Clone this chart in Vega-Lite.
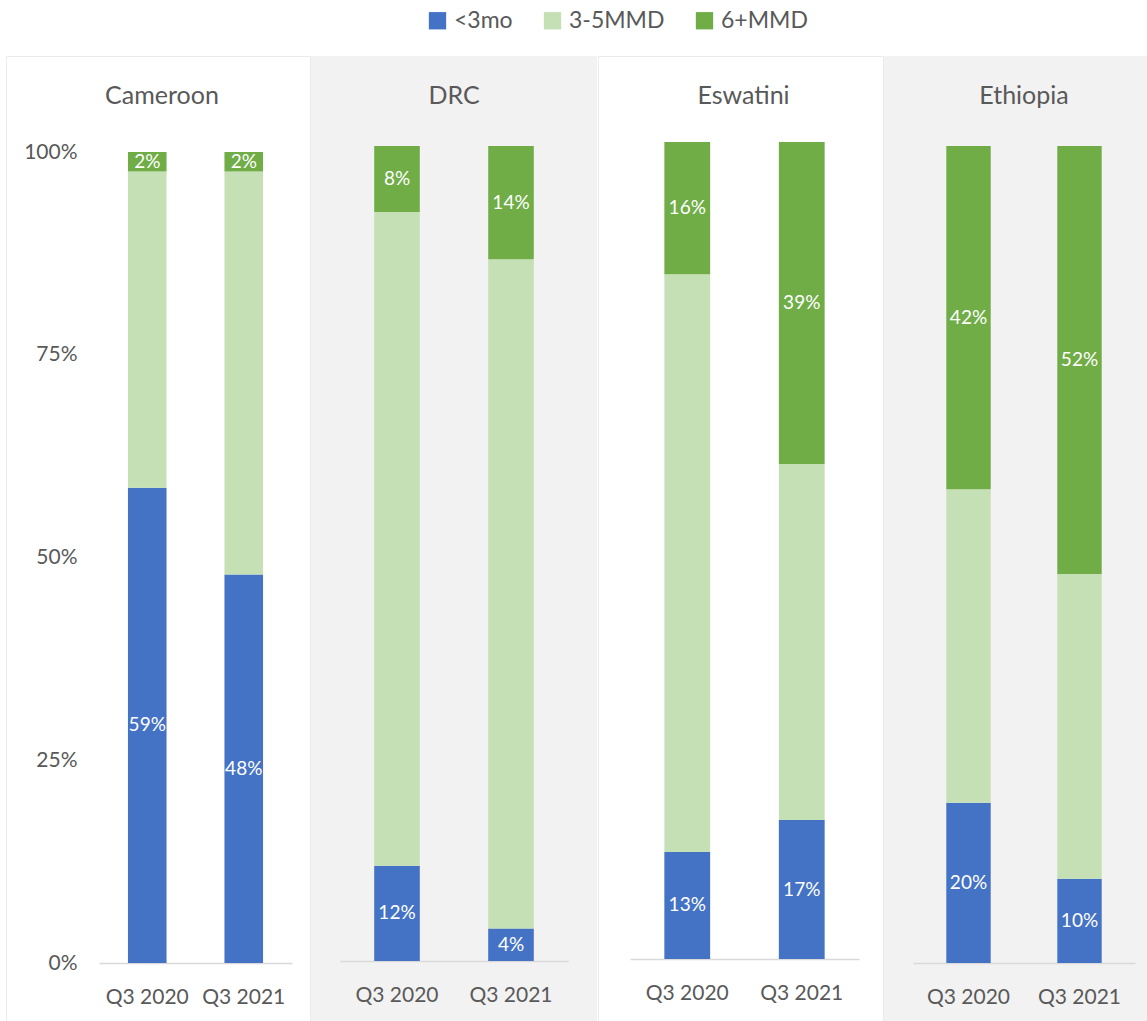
{
  "$schema": "https://vega.github.io/schema/vega-lite/v6.json",
  "padding": {"left": 5, "top": 9, "right": 1, "bottom": 0},
  "spacing": 0,
  "config": {
    "font": "Lato",
    "view": {"stroke": null},
    "axis": {"labelFont": "Lato", "labelColor": "#595959", "labelFontSize": 21, "domainColor": "#d9d9d9", "domainWidth": 1.5, "ticks": false, "tickSize": 0, "grid": false, "title": null},
    "title": {"font": "Lato", "fontSize": 25, "fontWeight": "normal", "color": "#595959", "baseline": "alphabetic", "anchor": "middle", "frame": "group"}
  },
  "data": {"values": [
    {"country": "Cameroon", "period": "Q3 2020", "cat": "<3mo", "ord": 1, "value": 0.586},
    {"country": "Cameroon", "period": "Q3 2020", "cat": "3-5MMD", "ord": 2, "value": 0.390},
    {"country": "Cameroon", "period": "Q3 2020", "cat": "6+MMD", "ord": 3, "value": 0.024},
    {"country": "Cameroon", "period": "Q3 2021", "cat": "<3mo", "ord": 1, "value": 0.479},
    {"country": "Cameroon", "period": "Q3 2021", "cat": "3-5MMD", "ord": 2, "value": 0.497},
    {"country": "Cameroon", "period": "Q3 2021", "cat": "6+MMD", "ord": 3, "value": 0.024},
    {"country": "DRC", "period": "Q3 2020", "cat": "<3mo", "ord": 1, "value": 0.117},
    {"country": "DRC", "period": "Q3 2020", "cat": "3-5MMD", "ord": 2, "value": 0.802},
    {"country": "DRC", "period": "Q3 2020", "cat": "6+MMD", "ord": 3, "value": 0.081},
    {"country": "DRC", "period": "Q3 2021", "cat": "<3mo", "ord": 1, "value": 0.040},
    {"country": "DRC", "period": "Q3 2021", "cat": "3-5MMD", "ord": 2, "value": 0.821},
    {"country": "DRC", "period": "Q3 2021", "cat": "6+MMD", "ord": 3, "value": 0.139},
    {"country": "Eswatini", "period": "Q3 2020", "cat": "<3mo", "ord": 1, "value": 0.131},
    {"country": "Eswatini", "period": "Q3 2020", "cat": "3-5MMD", "ord": 2, "value": 0.707},
    {"country": "Eswatini", "period": "Q3 2020", "cat": "6+MMD", "ord": 3, "value": 0.162},
    {"country": "Eswatini", "period": "Q3 2021", "cat": "<3mo", "ord": 1, "value": 0.170},
    {"country": "Eswatini", "period": "Q3 2021", "cat": "3-5MMD", "ord": 2, "value": 0.436},
    {"country": "Eswatini", "period": "Q3 2021", "cat": "6+MMD", "ord": 3, "value": 0.394},
    {"country": "Ethiopia", "period": "Q3 2020", "cat": "<3mo", "ord": 1, "value": 0.196},
    {"country": "Ethiopia", "period": "Q3 2020", "cat": "3-5MMD", "ord": 2, "value": 0.384},
    {"country": "Ethiopia", "period": "Q3 2020", "cat": "6+MMD", "ord": 3, "value": 0.420},
    {"country": "Ethiopia", "period": "Q3 2021", "cat": "<3mo", "ord": 1, "value": 0.103},
    {"country": "Ethiopia", "period": "Q3 2021", "cat": "3-5MMD", "ord": 2, "value": 0.373},
    {"country": "Ethiopia", "period": "Q3 2021", "cat": "6+MMD", "ord": 3, "value": 0.524}
  ]},
  "hconcat": [
    {
      "width": 304, "height": 965,
      "view": {"stroke": "#ebebeb", "fill": "white"},
      "title": {"text": "Cameroon", "offset": -53, "dx": 4},
      "transform": [
        {"filter": {"field": "country", "equal": "Cameroon"}},
        {"stack": "value", "groupby": ["period"], "sort": [{"field": "ord", "order": "ascending"}], "as": ["v0", "v1"]}
      ],
      "layer": [
        {
          "mark": {"type": "bar"},
          "encoding": {
            "x": {"field": "period", "type": "nominal", "scale": {"range": [93, 286], "paddingInner": 0.6, "paddingOuter": 0.3}, "axis": {"title": null, "labelAngle": 0, "offset": -58, "labelPadding": 23}},
            "y": {"field": "v0", "type": "quantitative", "scale": {"domain": [0, 1], "range": [907, 96], "nice": false}, "axis": {"title": null, "values": [0, 0.25, 0.5, 0.75, 1], "format": ".0%", "domain": false, "offset": -71, "labelPadding": 0}},
            "y2": {"field": "v1"},
            "color": {"field": "cat", "type": "nominal", "scale": {"domain": ["<3mo", "3-5MMD", "6+MMD"], "range": ["#4472C4", "#C5E0B4", "#70AD47"]},
              "legend": {"title": null, "orient": "none", "legendX": 420, "legendY": -47, "direction": "horizontal", "symbolType": "square", "symbolSize": 300, "symbolStrokeWidth": 0, "labelFontSize": 23, "labelColor": "#595959", "labelFont": "Lato", "labelOffset": 5, "columnPadding": 28}}
          }
        },
        {
          "transform": [
            {"filter": {"field": "cat", "oneOf": ["<3mo", "6+MMD"]}},
            {"fold": ["v0", "v1"], "as": ["k", "pos"]}
          ],
          "mark": {"type": "text", "color": "white", "fontSize": 19, "baseline": "middle", "font": "Lato"},
          "encoding": {
            "x": {"field": "period", "type": "nominal", "axis": {"title": null, "labelAngle": 0, "offset": -58, "labelPadding": 23}},
            "y": {"field": "pos", "aggregate": "mean", "type": "quantitative", "axis": {"title": null, "values": [0, 0.25, 0.5, 0.75, 1], "format": ".0%", "domain": false, "offset": -71, "labelPadding": 0}},
            "text": {"field": "value", "type": "quantitative", "format": ".0%"}
          }
        }
      ]
    },
    {
      "width": 286, "height": 965,
      "view": {"fill": "#f2f2f2", "stroke": null},
      "title": {"text": "DRC", "offset": -53, "dx": 0},
      "transform": [
        {"filter": {"field": "country", "equal": "DRC"}},
        {"stack": "value", "groupby": ["period"], "sort": [{"field": "ord", "order": "ascending"}], "as": ["v0", "v1"]}
      ],
      "layer": [
        {
          "mark": {"type": "bar"},
          "encoding": {
            "x": {"field": "period", "type": "nominal", "scale": {"range": [29, 257], "paddingInner": 0.6, "paddingOuter": 0.3}, "axis": {"title": null, "labelAngle": 0, "offset": -60, "labelPadding": 23}},
            "y": {"field": "v0", "type": "quantitative", "scale": {"domain": [0, 1], "range": [905, 90], "nice": false}, "axis": null},
            "y2": {"field": "v1"},
            "color": {"field": "cat", "type": "nominal", "scale": {"domain": ["<3mo", "3-5MMD", "6+MMD"], "range": ["#4472C4", "#C5E0B4", "#70AD47"]},
              "legend": {"title": null, "orient": "none", "legendX": 420, "legendY": -47, "direction": "horizontal", "symbolType": "square", "symbolSize": 300, "symbolStrokeWidth": 0, "labelFontSize": 23, "labelColor": "#595959", "labelFont": "Lato", "labelOffset": 5, "columnPadding": 28}}
          }
        },
        {
          "transform": [
            {"filter": {"field": "cat", "oneOf": ["<3mo", "6+MMD"]}},
            {"fold": ["v0", "v1"], "as": ["k", "pos"]}
          ],
          "mark": {"type": "text", "color": "white", "fontSize": 19, "baseline": "middle", "font": "Lato"},
          "encoding": {
            "x": {"field": "period", "type": "nominal", "axis": {"title": null, "labelAngle": 0, "offset": -60, "labelPadding": 23}},
            "y": {"field": "pos", "aggregate": "mean", "type": "quantitative", "axis": null},
            "text": {"field": "value", "type": "quantitative", "format": ".0%"}
          }
        }
      ]
    },
    {
      "width": 285, "height": 965,
      "view": {"stroke": "#ebebeb", "fill": "white"},
      "title": {"text": "Eswatini", "offset": -53, "dx": 3},
      "transform": [
        {"filter": {"field": "country", "equal": "Eswatini"}},
        {"stack": "value", "groupby": ["period"], "sort": [{"field": "ord", "order": "ascending"}], "as": ["v0", "v1"]}
      ],
      "layer": [
        {
          "mark": {"type": "bar"},
          "encoding": {
            "x": {"field": "period", "type": "nominal", "scale": {"range": [32, 261], "paddingInner": 0.6, "paddingOuter": 0.3}, "axis": {"title": null, "labelAngle": 0, "offset": -62, "labelPadding": 23}},
            "y": {"field": "v0", "type": "quantitative", "scale": {"domain": [0, 1], "range": [903, 86], "nice": false}, "axis": null},
            "y2": {"field": "v1"},
            "color": {"field": "cat", "type": "nominal", "scale": {"domain": ["<3mo", "3-5MMD", "6+MMD"], "range": ["#4472C4", "#C5E0B4", "#70AD47"]},
              "legend": {"title": null, "orient": "none", "legendX": 420, "legendY": -47, "direction": "horizontal", "symbolType": "square", "symbolSize": 300, "symbolStrokeWidth": 0, "labelFontSize": 23, "labelColor": "#595959", "labelFont": "Lato", "labelOffset": 5, "columnPadding": 28}}
          }
        },
        {
          "transform": [
            {"filter": {"field": "cat", "oneOf": ["<3mo", "6+MMD"]}},
            {"fold": ["v0", "v1"], "as": ["k", "pos"]}
          ],
          "mark": {"type": "text", "color": "white", "fontSize": 19, "baseline": "middle", "font": "Lato"},
          "encoding": {
            "x": {"field": "period", "type": "nominal", "axis": {"title": null, "labelAngle": 0, "offset": -62, "labelPadding": 23}},
            "y": {"field": "pos", "aggregate": "mean", "type": "quantitative", "axis": null},
            "text": {"field": "value", "type": "quantitative", "format": ".0%"}
          }
        }
      ]
    },
    {
      "width": 266, "height": 965,
      "view": {"fill": "#f2f2f2", "stroke": null},
      "title": {"text": "Ethiopia", "offset": -53, "dx": 7},
      "transform": [
        {"filter": {"field": "country", "equal": "Ethiopia"}},
        {"stack": "value", "groupby": ["period"], "sort": [{"field": "ord", "order": "ascending"}], "as": ["v0", "v1"]}
      ],
      "layer": [
        {
          "mark": {"type": "bar"},
          "encoding": {
            "x": {"field": "period", "type": "nominal", "scale": {"range": [29, 251], "paddingInner": 0.6, "paddingOuter": 0.3}, "axis": {"title": null, "labelAngle": 0, "offset": -58, "labelPadding": 23}},
            "y": {"field": "v0", "type": "quantitative", "scale": {"domain": [0, 1], "range": [907, 90], "nice": false}, "axis": null},
            "y2": {"field": "v1"},
            "color": {"field": "cat", "type": "nominal", "scale": {"domain": ["<3mo", "3-5MMD", "6+MMD"], "range": ["#4472C4", "#C5E0B4", "#70AD47"]},
              "legend": {"title": null, "orient": "none", "legendX": 420, "legendY": -47, "direction": "horizontal", "symbolType": "square", "symbolSize": 300, "symbolStrokeWidth": 0, "labelFontSize": 23, "labelColor": "#595959", "labelFont": "Lato", "labelOffset": 5, "columnPadding": 28}}
          }
        },
        {
          "transform": [
            {"filter": {"field": "cat", "oneOf": ["<3mo", "6+MMD"]}},
            {"fold": ["v0", "v1"], "as": ["k", "pos"]}
          ],
          "mark": {"type": "text", "color": "white", "fontSize": 19, "baseline": "middle", "font": "Lato"},
          "encoding": {
            "x": {"field": "period", "type": "nominal", "axis": {"title": null, "labelAngle": 0, "offset": -58, "labelPadding": 23}},
            "y": {"field": "pos", "aggregate": "mean", "type": "quantitative", "axis": null},
            "text": {"field": "value", "type": "quantitative", "format": ".0%"}
          }
        }
      ]
    }
  ]
}
